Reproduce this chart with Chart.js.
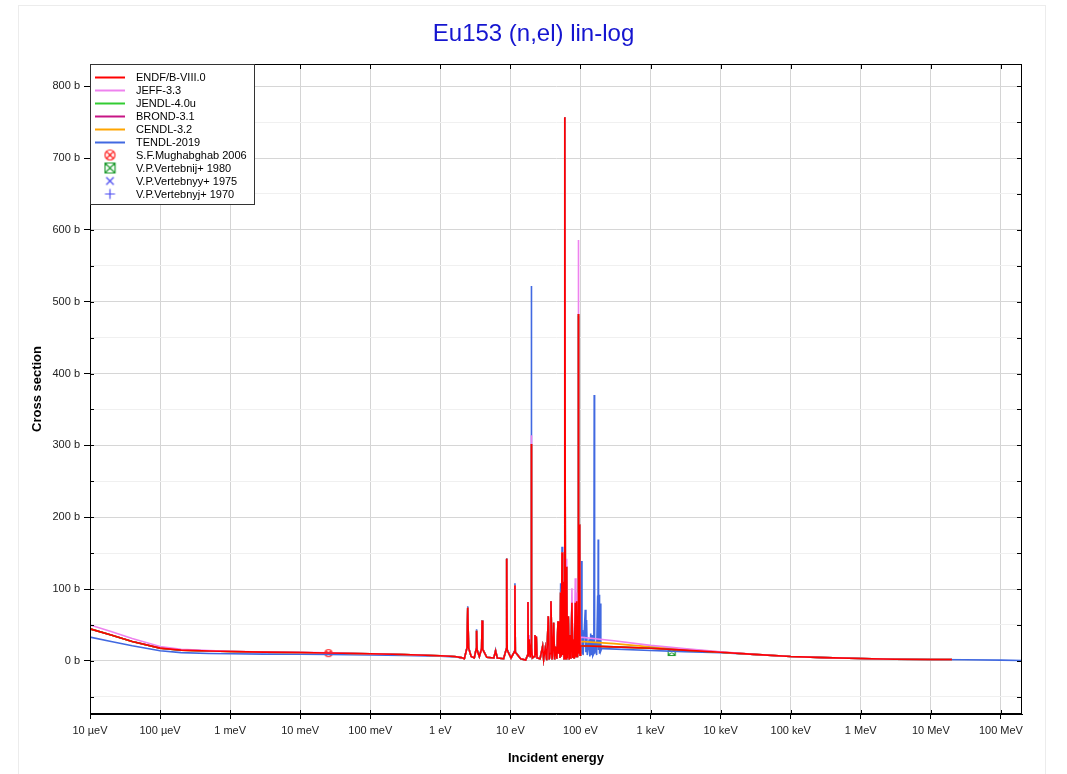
<!DOCTYPE html>
<html>
<head>
<meta charset="utf-8">
<title>Eu153 (n,el) lin-log</title>
<script src="https://cdn.jsdelivr.net/npm/chart.js@4.4.1/dist/chart.umd.min.js"></script>
<style>
  html, body { margin: 0; padding: 0; background: #fff; }
  canvas { display: block; }
</style>
</head>
<body>
<canvas id="xsChart" width="1067" height="774"></canvas>
<script>
// energies in eV, cross sections in barns

// thermal / 1/v region
const thermE      = [1e-5, 2e-5, 4e-5, 1e-4, 2e-4, 5e-4, 1e-3, 3e-3, 0.01, 0.0253, 0.1, 0.3, 1.0, 1.6, 2.0];
const endfTherm   = [44.6, 36, 27, 17.7, 15, 13.8, 13, 12.2, 11.6, 11, 9.8, 8.8, 7, 6, 4.5];
const jeffTherm   = [50, 41, 31, 20, 16, 14.2, 13.3, 12.4, 11.8, 11.1, 9.9, 8.9, 7, 6, 4.5];
const tendlTherm  = [33, 27, 21, 14, 11.5, 10.3, 9.8, 9.4, 9.2, 9.0, 8.3, 7.6, 6.4, 5.6, 4.2];

// resolved resonance region (2.2 - 98.5 eV)
const resE = [
  2.2, 2.40, 2.46, 2.53, 2.75, 3.05, 3.24, 3.29, 3.35, 3.6,
  3.88, 3.94, 4.02, 4.6, 5.8, 6.14, 6.5, 8.0, 8.72, 8.85,
  9.0, 10.2, 11.45, 11.6, 11.75, 14.0, 16.5, 17.6, 17.8, 18.0,
  18.6, 19.2, 19.75, 19.9, 20.05, 20.6, 21.8, 22.4, 22.9, 23.4,
  24.0, 26.5, 28.8, 29.8, 31.5, 33.0, 34.7, 35.8, 36.8, 37.9,
  39.2, 40.2, 41.4, 42.8, 44.5, 46.0, 47.7, 48.8, 49.9, 51.0,
  52.1, 53.2, 54.5, 55.6, 56.9, 58.2, 59.3, 60.1, 60.9, 62.3,
  63.5, 65.0, 67.0, 69.0, 71.0, 73.0, 75.5, 77.5, 79.5, 81.5,
  84.3, 86.2, 88.2, 90.5, 92.3, 93.1, 94.2, 96.0, 97.3, 98.5
];
const endfRes = [
  3, 18, 74, 18, 6, 4, 16, 42, 15, 6,
  17, 56, 16, 5, 4, 14, 4, 3, 16, 142,
  15, 4, 13, 105, 12, 3, 1, 8, 82, 6,
  30, 5, 20, 302, 18, 4, 6, 36, 8, 34,
  4, 3, 20, 2, 18, 1, 62, 2, 10, 83,
  2, 12, 53, 2, 20, 3, 55, 10, 55, 4,
  95, 6, 151, 8, 110, 3, 20, 757, 18, 3,
  131, 4, 62, 2, 36, 3, 81, 4, 30, 3,
  81, 5, 83, 5, 30, 483, 10, 30, 190, 8
];
const jeffRes = [
  3, 18, 74, 18, 6, 4, 16, 42, 15, 6,
  17, 56, 16, 5, 4, 14, 4, 3, 16, 142,
  15, 4, 13, 105, 12, 3, 1, 8, 82, 6,
  36, 5, 22, 314, 20, 4, 6, 36, 8, 34,
  4, 3, 20, 2, 18, 1, 62, 2, 10, 83,
  2, 12, 53, 2, 20, 3, 55, 10, 55, 4,
  95, 6, 151, 8, 110, 3, 20, 757, 18, 3,
  142, 4, 62, 2, 36, 3, 101, 4, 30, 3,
  115, 5, 95, 5, 30, 586, 10, 30, 190, 8
];
const tendlRes = [
  3, 19, 76, 19, 6, 4, 17, 44, 16, 6,
  18, 57, 17, 5, 4, 15, 4, 3, 17, 143,
  16, 4, 14, 108, 13, 3, 1, 8, 82, 6,
  30, 5, 30, 522, 25, 4, 6, 36, 8, 34,
  4, 3, 20, 2, 18, 1, 62, 2, 10, 83,
  2, 12, 53, 2, 20, 3, 55, 10, 55, 4,
  108, 6, 159, 8, 110, 3, 20, 757, 18, 3,
  131, 4, 62, 2, 36, 3, 81, 4, 30, 3,
  81, 5, 83, 5, 30, 480, 10, 30, 60, 8
];

// TENDL resonances continue up to ~200 eV
const tendlHiE  = [100, 103, 105, 107, 109, 117, 119.5, 122, 125, 133, 136, 140, 143, 146, 150,
                   155, 157, 159, 165, 170, 176, 177.5, 179, 181, 185, 187, 191, 195, 200];
const tendlHiXS = [12, 139, 10, 43, 8, 71, 12, 57, 8, 30, 6, 38, 8, 36, 7,
                   10, 370, 10, 25, 8, 91, 20, 169, 15, 92, 10, 80, 14, 17];

// smooth (unresolved / fast) region
const fastE      = [100, 300, 1e3, 3e3, 1e4, 3e4, 1e5, 3e5, 1e6, 3e6, 1e7, 2e7];
const endfFast   = [21, 19.5, 17.5, 15, 12, 9, 6, 4.5, 3.3, 2.3, 1.9, 1.9];
const jeffFast   = [33, 28, 21.5, 17, 12.5, 9, 6, 4.5, 3.3, 2.3, 1.9, 1.9];
const cendlFast  = [27, 24, 19.5, 16, 12.2, 9, 6, 4.5, 3.3, 2.3, 1.9, 1.9];
const tendlFastE = [210, 1e3, 3e3, 1e4, 3e4, 1e5, 3e5, 1e6, 3e6, 1e7, 3e7, 1e8, 2e8];
const tendlFast  = [17, 14.5, 12.8, 11.5, 8.8, 6, 4.5, 3.3, 2.3, 1.9, 1.5, 1.0, 0.5];

// experimental points
const mughE = [0.0253];  const mughXS = [10.7];
const vert80E = [2000];  const vert80XS = [12.3];
const vert75E = [];      const vert75XS = [];
const vert70E = [];      const vert70XS = [];

// axes
const xTickValues = [1e-5, 1e-4, 1e-3, 1e-2, 1e-1, 1, 10, 100, 1e3, 1e4, 1e5, 1e6, 1e7, 1e8];
const xTickLabels = ['10 µeV', '100 µeV', '1 meV', '10 meV', '100 meV', '1 eV', '10 eV', '100 eV',
                     '1 keV', '10 keV', '100 keV', '1 MeV', '10 MeV', '100 MeV'];
const yTickValues = [-50, 0, 50, 100, 150, 200, 250, 300, 350, 400, 450, 500, 550, 600, 650, 700, 750, 800];

const FONT = '"Liberation Sans", Arial, Helvetica, sans-serif';
Chart.defaults.font.family = FONT;

function pts(es, xs) {
  return es.map((e, i) => ({ x: e, y: xs[i] }));
}

function makeMarker(kind, color, size) {
  const c = document.createElement('canvas');
  c.width = size + 3; c.height = size + 3;
  const g = c.getContext('2d');
  const m = c.width / 2, r = size / 2;
  g.strokeStyle = color;
  g.lineWidth = 1.2;
  g.beginPath();
  if (kind === 'circleX') {
    g.arc(m, m, r, 0, Math.PI * 2);
    const d = r * 0.7;
    g.moveTo(m - d, m - d); g.lineTo(m + d, m + d);
    g.moveTo(m + d, m - d); g.lineTo(m - d, m + d);
  } else if (kind === 'squareX') {
    g.rect(m - r, m - r, size, size);
    g.moveTo(m - r, m - r); g.lineTo(m + r, m + r);
    g.moveTo(m + r, m - r); g.lineTo(m - r, m + r);
  } else if (kind === 'crossRot') {
    const d = r * 0.75;
    g.moveTo(m - d, m - d); g.lineTo(m + d, m + d);
    g.moveTo(m + d, m - d); g.lineTo(m - d, m + d);
  } else {
    g.moveTo(m - r, m); g.lineTo(m + r, m);
    g.moveTo(m, m - r); g.lineTo(m, m + r);
  }
  g.stroke();
  return c;
}

function curve(label, color, data) {
  return { label, data, borderColor: color, backgroundColor: color, borderWidth: 1.6,
           showLine: true, pointRadius: 0, tension: 0, fill: false };
}
function marks(label, kind, color, data) {
  return { label, data, showLine: false,
           pointStyle: makeMarker(kind, color, 7), legendMark: makeMarker(kind, color, 10),
           pointRadius: 4, borderColor: color };
}

const datasets = [
  curve('ENDF/B-VIII.0', '#ff0000', pts(thermE.concat(resE, fastE), endfTherm.concat(endfRes, endfFast))),
  curve('JEFF-3.3', '#ee82ee', pts(thermE.concat(resE, fastE), jeffTherm.concat(jeffRes, jeffFast))),
  curve('JENDL-4.0u', '#33cc33', pts(thermE.concat(resE, fastE), endfTherm.concat(endfRes, endfFast))),
  curve('BROND-3.1', '#c71585', pts(thermE.concat(resE, fastE), endfTherm.concat(endfRes, endfFast))),
  curve('CENDL-3.2', '#ffa500', pts(thermE.concat(resE, fastE), endfTherm.concat(endfRes, cendlFast))),
  curve('TENDL-2019', '#4169e1', pts(thermE.concat(resE, tendlHiE, tendlFastE),
                                     tendlTherm.concat(tendlRes, tendlHiXS, tendlFast))),
  marks('S.F.Mughabghab 2006', 'circleX', '#ff2020', pts(mughE, mughXS)),
  marks('V.P.Vertebnij+ 1980', 'squareX', '#1e9a2e', pts(vert80E, vert80XS)),
  marks('V.P.Vertebnyy+ 1975', 'crossRot', '#4a4af0', pts(vert75E, vert75XS)),
  marks('V.P.Vertebnyj+ 1970', 'cross', '#4a4af0', pts(vert70E, vert70XS))
];

const backdrop = {
  id: 'backdrop',
  beforeDraw(chart) {
    const ctx = chart.ctx;
    ctx.save();
    ctx.fillStyle = '#fff';
    ctx.fillRect(0, 0, chart.width, chart.height);
    ctx.strokeStyle = '#ececec';
    ctx.lineWidth = 1;
    ctx.strokeRect(18.5, 5.5, 1027, 780);
    // title, centred on the page
    ctx.fillStyle = '#1515d0';
    ctx.font = '24px ' + FONT;
    ctx.textAlign = 'center';
    ctx.textBaseline = 'middle';
    ctx.fillText('Eu153 (n,el) lin-log', chart.width / 2, 34);
    ctx.restore();
  }
};

const frame = {
  id: 'frame',
  afterDraw(chart) {
    const ctx = chart.ctx;
    const { left, right, top, bottom } = chart.chartArea;
    const xs = chart.scales.x, ys = chart.scales.y;
    ctx.save();
    ctx.strokeStyle = '#000';
    ctx.lineWidth = 1;
    ctx.strokeRect(Math.round(left) + 0.5, Math.round(top) + 0.5,
                   Math.round(right - left) - 1, Math.round(bottom - top) - 1);
    ctx.beginPath();
    xTickValues.forEach(v => {
      const px = Math.round(xs.getPixelForValue(v)) + 0.5;
      ctx.moveTo(px, bottom); ctx.lineTo(px, bottom - 4);
      ctx.moveTo(px, top); ctx.lineTo(px, top + 5);
    });
    yTickValues.forEach(v => {
      const py = Math.round(ys.getPixelForValue(v)) + 0.5;
      ctx.moveTo(left, py); ctx.lineTo(left + 4, py);
      ctx.moveTo(right, py); ctx.lineTo(right - 5, py);
    });
    ctx.stroke();
    ctx.restore();
  }
};

const boxLegend = {
  id: 'boxLegend',
  afterDraw(chart) {
    const ctx = chart.ctx;
    const x0 = Math.round(chart.chartArea.left), y0 = Math.round(chart.chartArea.top);
    ctx.save();
    ctx.fillStyle = '#fff';
    ctx.fillRect(x0, y0, 164, 140);
    ctx.strokeStyle = '#333';
    ctx.lineWidth = 1;
    ctx.strokeRect(x0 + 0.5, y0 + 0.5, 164, 140);
    ctx.font = '11px ' + FONT;
    ctx.textBaseline = 'middle';
    ctx.textAlign = 'left';
    chart.data.datasets.forEach((ds, i) => {
      const y = y0 + 13 + i * 13;
      if (ds.showLine) {
        ctx.strokeStyle = ds.borderColor;
        ctx.lineWidth = 2;
        ctx.beginPath();
        ctx.moveTo(x0 + 5, y + 0.5); ctx.lineTo(x0 + 35, y + 0.5);
        ctx.stroke();
      } else {
        const img = ds.legendMark;
        ctx.drawImage(img, x0 + 20 - img.width / 2, y - img.height / 2);
      }
      ctx.fillStyle = '#000';
      ctx.fillText(ds.label, x0 + 46, y + 0.5);
    });
    ctx.restore();
  }
};

new Chart(document.getElementById('xsChart').getContext('2d'), {
  type: 'scatter',
  data: { datasets },
  options: {
    responsive: false,
    animation: false,
    devicePixelRatio: 1,
    layout: { padding: { left: 18, right: 45, top: 64, bottom: 0 } },
    plugins: {
      legend: { display: false },
      tooltip: { enabled: false },
      title: { display: false }
    },
    scales: {
      x: {
        type: 'logarithmic',
        min: 1e-5,
        max: 2e8,
        afterBuildTicks: s => { s.ticks = xTickValues.map(v => ({ value: v })); },
        afterFit: s => { s.height = 60; },
        ticks: {
          autoSkip: false, maxRotation: 0, minRotation: 0,
          color: '#222', font: { size: 11 }, padding: 5,
          callback: (v, i) => xTickLabels[i]
        },
        grid: { color: '#d4d4d4', tickColor: '#000', tickLength: 5 },
        border: { color: '#000', width: 1 },
        title: {
          display: true, text: 'Incident energy', color: '#000',
          font: { size: 13, weight: 'bold' }, padding: { top: 0, bottom: 8.2 }
        }
      },
      y: {
        type: 'linear',
        min: -74,
        max: 831,
        afterBuildTicks: s => { s.ticks = yTickValues.map(v => ({ value: v })); },
        afterFit: s => { s.width = 72; },
        ticks: {
          color: '#222', font: { size: 11 }, padding: 4,
          callback: v => (v % 100 === 0 ? v + ' b' : '')
        },
        grid: {
          color: c => (c.tick && c.tick.value % 100 === 0 ? '#d6d6d6' : '#f0f0f0'),
          tickColor: c => (c.tick && c.tick.value % 100 === 0 ? '#000' : 'rgba(0,0,0,0)'),
          tickLength: 6
        },
        border: { color: '#000', width: 1 },
        title: {
          display: true, text: 'Cross section', color: '#000',
          font: { size: 13, weight: 'bold' }, padding: { top: 11.2, bottom: 0 }
        }
      }
    }
  },
  plugins: [backdrop, frame, boxLegend]
});
</script>
</body>
</html>
